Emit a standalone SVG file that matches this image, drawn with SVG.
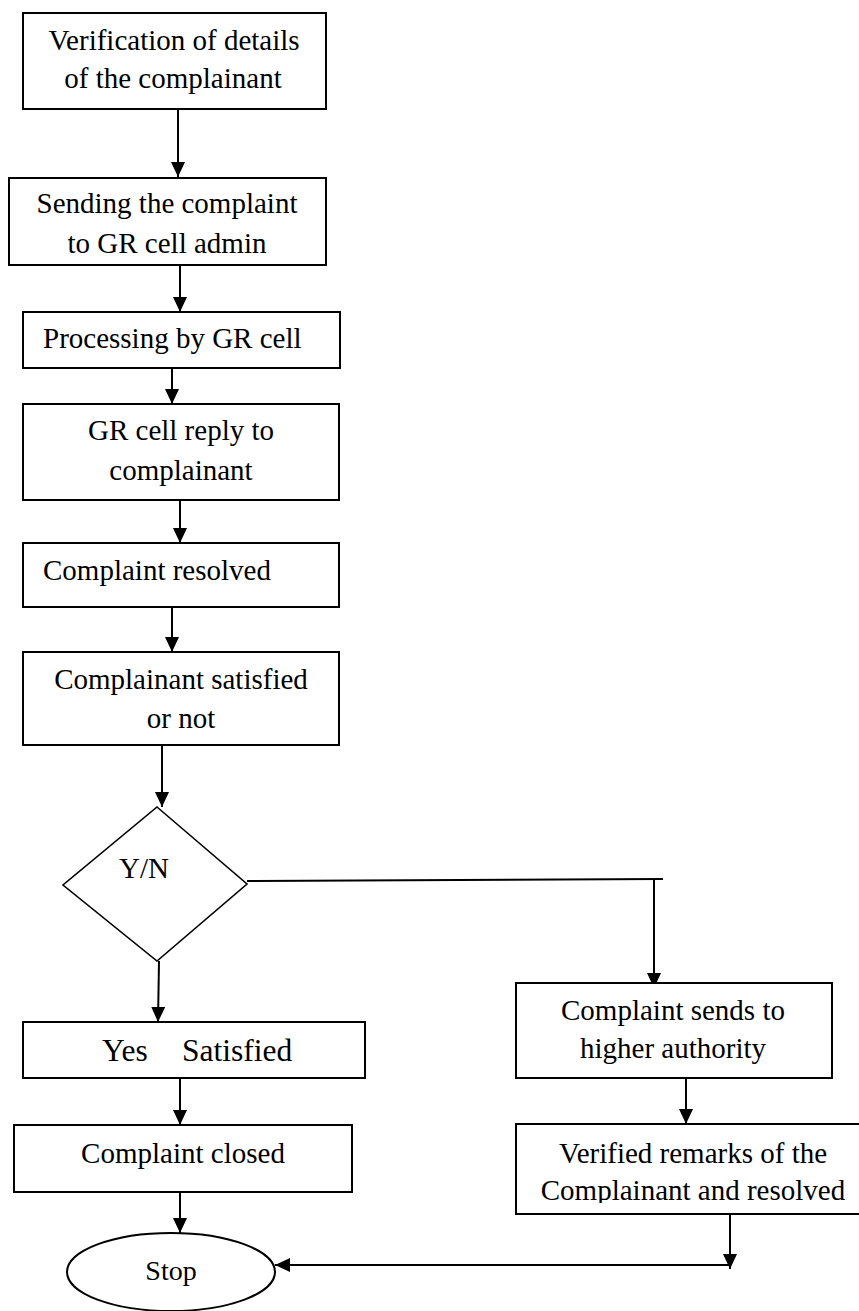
<svg xmlns="http://www.w3.org/2000/svg" width="859" height="1311" viewBox="0 0 859 1311">
<style>
.box{fill:#fff;stroke:#000;stroke-width:2}
.dia{fill:#fff;stroke:#000;stroke-width:1.6}
.t{font-family:"Liberation Serif","Times New Roman",serif;font-size:29px;fill:#000}
.c{text-anchor:middle}
.edge{fill:none;stroke:#000;stroke-width:2}
</style>
<defs>
<marker id="ah" markerUnits="userSpaceOnUse" markerWidth="16" markerHeight="14" refX="15" refY="7" orient="auto" viewBox="0 0 16 14">
<path d="M0,0 L15,7 L0,14 z" fill="#000"/>
</marker>
<clipPath id="clip8"><rect x="510" y="1120" width="360" height="83"/></clipPath>
</defs>
<rect width="859" height="1311" fill="#fff"/>
<g id="connectors">
<line class="edge" x1="178" y1="109" x2="178" y2="177" marker-end="url(#ah)"/>
<line class="edge" x1="180" y1="265" x2="180" y2="312" marker-end="url(#ah)"/>
<line class="edge" x1="172" y1="368" x2="172" y2="404" marker-end="url(#ah)"/>
<line class="edge" x1="180" y1="500" x2="180" y2="543" marker-end="url(#ah)"/>
<line class="edge" x1="172" y1="607" x2="172" y2="652" marker-end="url(#ah)"/>
<line class="edge" x1="162" y1="745" x2="162" y2="807" marker-end="url(#ah)"/>
<line class="edge" x1="159" y1="961" x2="158" y2="1022" marker-end="url(#ah)"/>
<polyline class="edge" points="247,881 663,879"/>
<line class="edge" x1="654" y1="879" x2="654" y2="988" marker-end="url(#ah)"/>
<line class="edge" x1="180" y1="1078" x2="180" y2="1125" marker-end="url(#ah)"/>
<line class="edge" x1="686" y1="1078" x2="686" y2="1124" marker-end="url(#ah)"/>
<line class="edge" x1="180" y1="1192" x2="180" y2="1233" marker-end="url(#ah)"/>
<line class="edge" x1="730" y1="1214" x2="730" y2="1269" marker-end="url(#ah)"/>
<line class="edge" x1="730" y1="1265" x2="275" y2="1265" marker-end="url(#ah)"/>
</g>
<g id="n1">
<rect class="box" x="23" y="13" width="303" height="96"/>
<text class="t c" x="174" y="50">Verification of details</text>
<text class="t c" x="173" y="88">of the complainant</text>
</g>
<g id="n2">
<rect class="box" x="9" y="178" width="317" height="87"/>
<text class="t c" x="167" y="213">Sending the complaint</text>
<text class="t c" x="167" y="253">to GR cell admin</text>
</g>
<g id="n3">
<rect class="box" x="23" y="312" width="317" height="56"/>
<text class="t" x="43" y="348">Processing by GR cell</text>
</g>
<g id="n4">
<rect class="box" x="23" y="404" width="316" height="96"/>
<text class="t c" x="181" y="440">GR cell reply to</text>
<text class="t c" x="181" y="480">complainant</text>
</g>
<g id="n5">
<rect class="box" x="23" y="543" width="316" height="64"/>
<text class="t" x="43" y="580">Complaint resolved</text>
</g>
<g id="n6">
<rect class="box" x="23" y="652" width="316" height="93"/>
<text class="t c" x="181" y="689">Complainant satisfied</text>
<text class="t c" x="181" y="728">or not</text>
</g>
<g id="n7">
<polygon class="dia" points="157,807 247,884 157,961 63,885"/>
<text class="t c" x="144" y="878">Y/N</text>
</g>
<g id="n8">
<rect class="box" x="23" y="1022" width="342" height="56"/>
<text class="t" x="102" y="1061" style="font-size:31.5px">Yes</text>
<text class="t" x="182" y="1061" style="font-size:31.5px">Satisfied</text>
</g>
<g id="n9">
<rect class="box" x="14" y="1125" width="338" height="67"/>
<text class="t c" x="183" y="1163">Complaint closed</text>
</g>
<g id="n10">
<ellipse class="box" cx="171" cy="1272" rx="104" ry="39"/>
<text class="t c" x="171" y="1280" style="font-size:28px">Stop</text>
</g>
<g id="n11">
<rect class="box" x="516" y="983" width="316" height="95"/>
<text class="t c" x="673" y="1020">Complaint sends to</text>
<text class="t c" x="673" y="1058">higher authority</text>
</g>
<g id="n12">
<rect class="box" x="516" y="1124" width="350" height="90"/>
<g clip-path="url(#clip8)">
<text class="t c" x="693" y="1163">Verified remarks of the</text>
<text class="t c" x="693" y="1200">Complainant and resolved</text>
</g>
</g>
</svg>
